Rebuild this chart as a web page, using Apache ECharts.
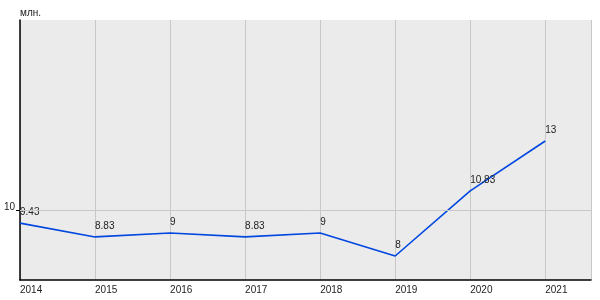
<!DOCTYPE html>
<html>
<head>
<meta charset="utf-8">
<script src="https://cdn.jsdelivr.net/npm/echarts@6/dist/echarts.min.js"></script>
<style>html,body{margin:0;padding:0;background:#fff;}#c{width:600px;height:300px;}</style>
</head>
<body>
<div id="c"></div>
<script>
const years = [2014, 2015, 2016, 2017, 2018, 2019, 2020, 2021];
const values = [9.43, 8.83, 9, 8.83, 9, 8, 10.83, 13];
const yTicks = [10];
const unitLabel = 'млн.';

const chart = echarts.init(document.getElementById('c'), null, {renderer: 'canvas'});
const font = 'Arial, "Liberation Sans", sans-serif';
chart.setOption({
  animation: false,
  textStyle: {fontFamily: font},
  graphic: [{
    type: 'text', left: 20, top: 8,
    style: {text: unitLabel, font: '10px ' + font, fill: '#222'}
  }],
  grid: {left: 20, right: 9, top: 20, bottom: 20, show: true, backgroundColor: '#ebebeb', borderWidth: 0},
  xAxis: {
    type: 'value', min: 2014, max: 2021.61, interval: 1,
    axisLine: {show: true, lineStyle: {color: '#000', width: 1.5}},
    axisTick: {show: false},
    axisLabel: {
      color: '#222', fontSize: 10, fontFamily: font, align: 'left', margin: 5,
      showMaxLabel: false,
      formatter: v => (Number.isInteger(v) ? String(v) : '')
    },
    splitLine: {show: true, lineStyle: {color: '#c8c8c8', width: 1}}
  },
  yAxis: {
    type: 'value', min: 6.957, max: 18.26,
    axisLine: {show: true, lineStyle: {color: '#000', width: 1.5}},
    axisTick: {show: true, customValues: yTicks, length: 4, lineStyle: {color: '#000'}},
    axisLabel: {customValues: yTicks, color: '#222', fontSize: 10, fontFamily: font, margin: 5,
      verticalAlign: 'bottom', lineHeight: 6},
    splitLine: {show: false}
  },
  series: [{
    type: 'line',
    data: years.map((y, i) => [y, values[i]]),
    symbol: 'circle', symbolSize: 2, showSymbol: true,
    itemStyle: {color: 'rgba(0,0,0,0)'},
    lineStyle: {color: '#0047e0', width: 1.6},
    label: {
      show: true, position: 'top', align: 'left', distance: 5,
      color: '#222', fontSize: 10, fontFamily: font,
      formatter: p => String(p.value[1])
    },
    labelLayout: {hideOverlap: false},
    markLine: {
      silent: true, symbol: 'none', label: {show: false},
      lineStyle: {color: '#c8c8c8', width: 1, type: 'solid'},
      data: yTicks.map(v => ({yAxis: v}))
    },
    z: 3
  }]
});
</script>
</body>
</html>
